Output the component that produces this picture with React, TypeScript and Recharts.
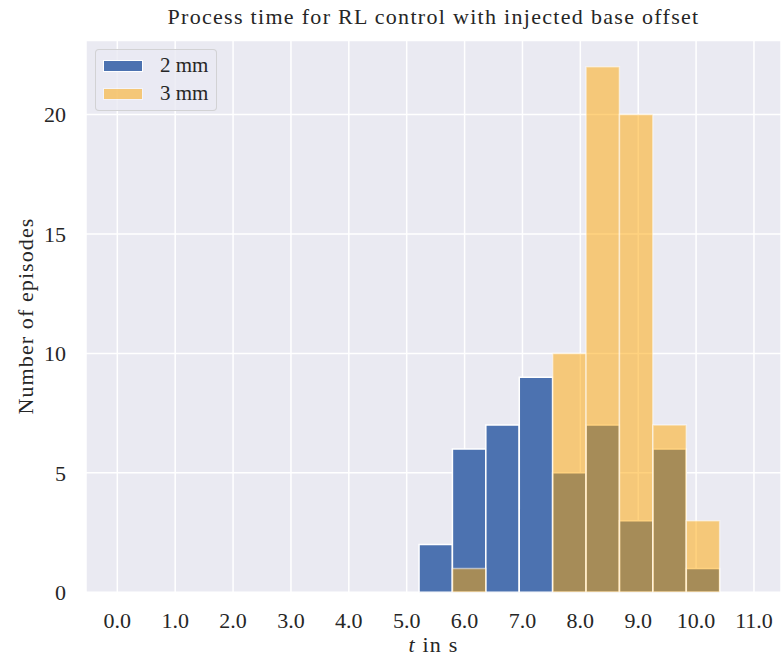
import React from 'react';
import { ComposedChart, Bar, XAxis, YAxis, CartesianGrid } from 'recharts';

const binStarts = [5.213, 5.790, 6.367, 6.945, 7.522, 8.099, 8.676, 9.254, 9.831];
const binWidth = 0.577;
const counts2mm = [2, 6, 7, 9, 5, 7, 3, 6, 1];
const counts3mm = [0, 1, 0, 0, 10, 22, 20, 7, 3];
const xTicks = [0, 1, 2, 3, 4, 5, 6, 7, 8, 9, 10, 11];
const yTicks = [0, 5, 10, 15, 20];
const seriesNames = ['2 mm', '3 mm'];
const seriesColors = ['#4C72B0', '#FFA500'];
const seriesOpacity = [1, 0.5];

const title = 'Process time for RL control with injected base offset';
const yLabel = 'Number of episodes';

const data = binStarts.map((s, i) => ({
  x: s + binWidth / 2,
  mm2: counts2mm[i],
  mm3: counts3mm[i],
}));

const W = 781;
const H = 660;
const plotLeft = 86;
const plotTop = 40.5;
const plotBottom = 592.3;
const xDomain: [number, number] = [-0.541, 11.467];
const yDomain: [number, number] = [0, 23.1];
const pxPerUnit = (W - plotLeft) / (xDomain[1] - xDomain[0]);
const barPx = binWidth * pxPerUnit * 0.998;

const font = 'Liberation Serif, Times New Roman, serif';
const textColor = '#262626';

export default function App() {
  const tickStyle = { fill: textColor, fontSize: 22, fontFamily: font };
  return (
    <div style={{ position: 'absolute', left: 0, top: 0, width: W, height: H, overflow: 'hidden', background: '#fff' }}>
      <ComposedChart
        width={W}
        height={H}
        data={data}
        margin={{ top: plotTop, right: 0, bottom: 0, left: 0 }}
        barGap={0}
        barCategoryGap={0}
      >
        <CartesianGrid fill="#EAEAF2" stroke="#FFFFFF" strokeWidth={1.5} />
        <XAxis
          type="number"
          dataKey="x"
          domain={xDomain}
          allowDataOverflow
          ticks={xTicks}
          tickFormatter={(v: number) => v.toFixed(1)}
          axisLine={false}
          tickLine={false}
          tickSize={0}
          tickMargin={20}
          height={H - plotBottom}
          tick={tickStyle}
          interval={0}
        />
        <XAxis
          xAxisId="b"
          type="number"
          dataKey="x"
          domain={xDomain}
          allowDataOverflow
          hide
        />
        <YAxis
          type="number"
          domain={yDomain}
          allowDataOverflow
          ticks={yTicks}
          axisLine={false}
          tickLine={false}
          tickSize={0}
          tickMargin={20}
          width={plotLeft}
          tick={tickStyle}
          interval={0}
        />
        <Bar
          dataKey="mm2"
          name={seriesNames[0]}
          fill={seriesColors[0]}
          fillOpacity={seriesOpacity[0]}
          stroke="#FFFFFF"
          strokeWidth={1.5}
          barSize={barPx}
          isAnimationActive={false}
        />
        <Bar
          dataKey="mm3"
          xAxisId="b"
          name={seriesNames[1]}
          fill={seriesColors[1]}
          fillOpacity={seriesOpacity[1]}
          stroke="#FFFFFF"
          strokeOpacity={0.5}
          strokeWidth={1.5}
          barSize={barPx}
          isAnimationActive={false}
        />
      </ComposedChart>

      <div
        style={{
          position: 'absolute',
          left: plotLeft,
          width: W - plotLeft,
          top: 4,
          textAlign: 'center',
          fontFamily: font,
          fontSize: 22,
          letterSpacing: 1.3,
          color: textColor,
          whiteSpace: 'nowrap',
        }}
      >
        {title}
      </div>

      <div
        style={{
          position: 'absolute',
          left: plotLeft,
          width: W - plotLeft,
          top: 632,
          textAlign: 'center',
          fontFamily: font,
          fontSize: 22,
          letterSpacing: 1.2,
          color: textColor,
          whiteSpace: 'nowrap',
        }}
      >
        <span style={{ fontStyle: 'italic' }}>t</span> in s
      </div>

      <div
        style={{
          position: 'absolute',
          left: 26 - 150,
          top: 316 - 14,
          width: 300,
          height: 28,
          lineHeight: '28px',
          textAlign: 'center',
          transform: 'rotate(-90deg)',
          fontFamily: font,
          fontSize: 22,
          letterSpacing: 1.1,
          color: textColor,
          whiteSpace: 'nowrap',
        }}
      >
        {yLabel}
      </div>

      <div
        style={{
          position: 'absolute',
          left: 95,
          top: 49,
          width: 122,
          height: 62,
          boxSizing: 'border-box',
          border: '1px solid rgba(204,204,204,0.8)',
          borderRadius: 4,
          background: 'rgba(234,234,242,0.8)',
          fontFamily: font,
          fontSize: 21,
          color: textColor,
        }}
      >
        {seriesNames.map((n, i) => (
          <div key={n} style={{ position: 'absolute', left: 7, top: 9 + i * 28, height: 13, display: 'flex', alignItems: 'center' }}>
            <div
              style={{
                width: 40,
                height: 12,
                boxSizing: 'border-box',
                border: '1px solid #fff',
                background: seriesColors[i],
                opacity: seriesOpacity[i],
              }}
            />
            <span style={{ marginLeft: 17, whiteSpace: 'nowrap', lineHeight: '13px' }}>{n}</span>
          </div>
        ))}
      </div>
    </div>
  );
}
